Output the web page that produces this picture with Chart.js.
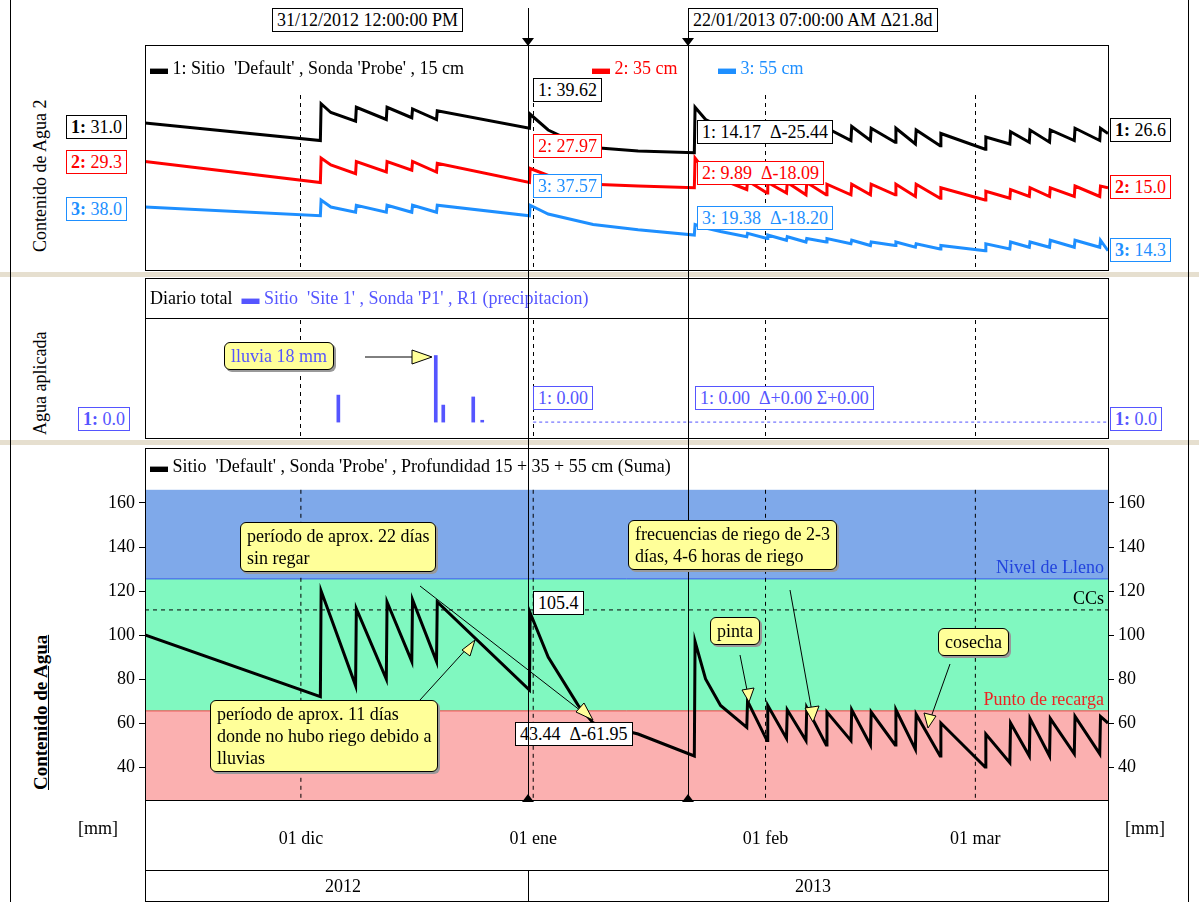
<!DOCTYPE html>
<html><head><meta charset="utf-8">
<script src="https://cdn.jsdelivr.net/npm/chart.js@4"></script>
<style>
body{margin:0;background:#fff;font-family:"Liberation Serif",serif;font-size:18px;}
#page{position:relative;width:1199px;height:902px;overflow:hidden;}
.abs{position:absolute;}
.frame{position:absolute;border:1px solid #000;box-sizing:border-box;}
.box{position:absolute;border:1px solid;background:#fff;padding:0 4px;white-space:nowrap;line-height:22px;}
.note{position:absolute;background:#ffff99;border:1px solid #000;border-radius:6px;padding:2px 6px;line-height:22px;box-shadow:2px 2px 0 #999;}
.vt{position:absolute;transform:rotate(-90deg);transform-origin:left top;white-space:nowrap;}
canvas{position:absolute;}
</style></head><body><div id="page">
<div class="abs" style="left:0;top:272px;width:1199px;height:5px;background:#e6dfcf"></div>
<div class="abs" style="left:0;top:440px;width:1199px;height:5px;background:#e6dfcf"></div>
<div class="abs" style="left:10px;top:0;width:1px;height:902px;background:#000"></div>
<div class="abs" style="left:1188px;top:0;width:1px;height:902px;background:#000"></div>

<canvas id="c1" width="963" height="175" style="left:145px;top:95px"></canvas>
<canvas id="c2" width="963" height="118" style="left:145px;top:320px"></canvas>
<canvas id="c3" width="1075" height="395" style="left:90px;top:475px"></canvas>

<div class="frame" style="left:145px;top:45px;width:964px;height:226px"></div>
<div class="frame" style="left:145px;top:278px;width:964px;height:161px"></div>
<div class="frame" style="left:145px;top:278px;width:964px;height:41px"></div>
<div class="frame" style="left:145px;top:448px;width:964px;height:353px"></div>
<div class="frame" style="left:145px;top:800px;width:964px;height:71px"></div>
<div class="frame" style="left:145px;top:870px;width:964px;height:32px"></div>
<div class="abs" style="left:528px;top:870px;width:1px;height:32px;background:#000"></div>

<div class="abs" style="left:150px;top:58px">▬ 1: Sitio &nbsp;'Default' , Sonda 'Probe' , 15 cm</div>
<div class="abs" style="left:592px;top:58px;color:#f00">▬ 2: 35 cm</div>
<div class="abs" style="left:718px;top:58px;color:#1e8fff">▬ 3: 55 cm</div>
<div class="abs" style="left:150px;top:288px">Diario total &nbsp;<span style="color:#55f">▬ Sitio &nbsp;'Site 1' , Sonda 'P1' , R1 (precipitacion)</span></div>
<div class="abs" style="left:150px;top:456px">▬ Sitio &nbsp;'Default' , Sonda 'Probe' , Profundidad 15 + 35 + 55 cm (Suma)</div>
<div class="abs" style="left:325px;top:876px">2012</div>
<div class="abs" style="left:795px;top:876px">2013</div>
<div class="abs" style="left:78px;top:818px">[mm]</div>
<div class="abs" style="left:1125px;top:818px">[mm]</div>

<div class="vt" style="left:30px;top:252px">Contenido de Agua 2</div>
<div class="vt" style="left:30px;top:435px">Agua aplicada</div>
<div class="vt" style="left:30px;top:790px;font-weight:bold;text-decoration:underline;font-size:19px">Contenido de Agua</div>

<div class="box" style="left:66px;top:115px;border-color:#000"><b>1:</b> 31.0</div>
<div class="box" style="left:66px;top:150px;border-color:#f00;color:#f00"><b>2:</b> 29.3</div>
<div class="box" style="left:66px;top:197px;border-color:#1e8fff;color:#1e8fff"><b>3:</b> 38.0</div>
<div class="box" style="left:1110px;top:118px;border-color:#000"><b>1:</b> 26.6</div>
<div class="box" style="left:1110px;top:175px;border-color:#f00;color:#f00"><b>2:</b> 15.0</div>
<div class="box" style="left:1110px;top:238px;border-color:#1e8fff;color:#1e8fff"><b>3:</b> 14.3</div>
<div class="box" style="left:78px;top:407px;border-color:#55f;color:#55f"><b>1:</b> 0.0</div>
<div class="box" style="left:1110px;top:407px;border-color:#55f;color:#55f"><b>1:</b> 0.0</div>

<div class="box" style="left:533px;top:78px;border-color:#000">1: 39.62</div>
<div class="box" style="left:533px;top:134px;border-color:#f00;color:#f00">2: 27.97</div>
<div class="box" style="left:533px;top:174px;border-color:#1e8fff;color:#1e8fff">3: 37.57</div>
<div class="box" style="left:697px;top:120px;border-color:#000">1: 14.17 &nbsp;Δ-25.44</div>
<div class="box" style="left:697px;top:161px;border-color:#f00;color:#f00">2: 9.89 &nbsp;Δ-18.09</div>
<div class="box" style="left:697px;top:206px;border-color:#1e8fff;color:#1e8fff">3: 19.38 &nbsp;Δ-18.20</div>
<div class="box" style="left:533px;top:386px;border-color:#55f;color:#55f">1: 0.00</div>
<div class="box" style="left:695px;top:386px;border-color:#55f;color:#55f">1: 0.00 &nbsp;Δ+0.00 Σ+0.00</div>
<div class="box" style="left:533px;top:591px;border-color:#000">105.4</div>
<div class="box" style="left:515px;top:722px;border-color:#000">43.44 &nbsp;Δ-61.95</div>

<div class="box" style="left:272px;top:8px;border-color:#000">31/12/2012 12:00:00 PM</div>
<div class="box" style="left:688px;top:8px;border-color:#000">22/01/2013 07:00:00 AM Δ21.8d</div>
<div class="abs" style="left:528px;top:8px;width:1px;height:792px;background:#000"></div>
<div class="abs" style="left:688px;top:8px;width:1px;height:792px;background:#000"></div>
<div class="abs" style="left:522px;top:38px;border:6px solid transparent;border-top:8px solid #000"></div>
<div class="abs" style="left:682px;top:38px;border:6px solid transparent;border-top:8px solid #000"></div>
<div class="abs" style="left:522px;top:794px;border:6px solid transparent;border-bottom:8px solid #000;border-top:0"></div>
<div class="abs" style="left:682px;top:794px;border:6px solid transparent;border-bottom:8px solid #000;border-top:0"></div>

<div class="note" style="left:224px;top:342px;color:#55f">lluvia 18 mm</div>
<div class="note" style="left:240px;top:522px">período de aprox. 22 días<br>sin regar</div>
<div class="note" style="left:210px;top:700px">período de aprox. 11 días<br>donde no hubo riego debido a<br>lluvias</div>
<div class="note" style="left:628px;top:520px">frecuencias de riego de 2-3<br>días, 4-6 horas de riego</div>
<div class="note" style="left:710px;top:617px">pinta</div>
<div class="note" style="left:938px;top:628px">cosecha</div>
<svg class="abs" style="left:0;top:0" width="1199" height="902">
 <g stroke="#000" fill="#ffff99" stroke-width="1">
 <line x1="365" y1="357" x2="420" y2="357"/><polygon points="412,350 432,357 412,364"/>
 <line x1="420" y1="586" x2="590" y2="718"/><polygon points="576,712 593,720 584,703"/>
 <line x1="420" y1="700" x2="470" y2="645"/><polygon points="462,650 475,640 470,656"/>
 <line x1="740" y1="655" x2="748" y2="695"/><polygon points="742,690 749,702 754,688"/>
 <line x1="790" y1="590" x2="812" y2="712"/><polygon points="805,708 813,722 819,706"/>
 <line x1="950" y1="664" x2="930" y2="720"/><polygon points="924,713 928,728 936,716"/>
 </g></svg>
</div>
<script>
const xMin = -20.8, xMax = 107.7;
const monthTicks = [0, 31, 62, 90];
const monthLabels = ['01 dic', '01 ene', '01 feb', '01 mar'];

const sumDays = [-20.8,2.6,2.7,4,7.3,7.4,11.4,11.5,14.8,14.9,18.1,18.2,30.5,30.6,33,37,39,45,52.5,52.6,54,56,
  59.5,59.6,62.2,62.3,64.8,64.9,67.4,67.5,70.1,70.2,73.4,73.5,76.0,76.1,79.3,79.4,82.0,82.1,85.3,85.4,
  91.3,91.4,94.6,94.7,97.2,97.3,99.9,100,103.2,103.3,106.6,106.7,107.7];
const sumVals = [100,72,120,108,77,112,80,115,88,116,88,115,75,110,90,68,60,55,45,97,80,68,
  58,70,52,68,53,66,52,67,50,65,52,66,50,65,50,66,48,64,45,60,40,55,42,60,45,62,45,62,46,63,46,63,60];
const probe15 = [84,74,95,90,85,93,86,93,87,92,86,91,81,89,80,72,70,68,67,93,86,82,76,83,75,82,75,82,74,82,74,81,74,82,74,81,73,81,72,80,71,78,69,76,72,79,73,80,73,80,74,81,74,81,78];
const probe35 = [62,50,64,60,55,62,56,62,57,62,56,61,50,58,54,50,49,48,47,64,56,52,46,51,44,50,44,50,43,50,43,49,43,49,43,49,43,49,42,49,41,47,40,45,41,46,42,47,42,47,42,48,42,48,47];
const probe55 = [36,31,40,36,33,37,33,37,33,37,33,37,31,37,32,28,26,23,20,26,24,22,19,21,18,20,17,19,16,18,16,18,15,17,14,16,14,16,13,15,12,14,11,15,12,16,13,16,13,17,13,17,13,17,11];

const rainDays = [5.0, 18.0, 19.0, 23.0, 24.2];
const rainVals = [7.3, 18, 4.6, 6.8, 0.5];

const levels = {full: 125.5, cc: 111.4, refill: 65.5, top: 166, bottom: 25};
const yTicks = [40, 60, 80, 100, 120, 140, 160];

const pts = (d, v) => d.map((x, i) => ({x: x, y: v[i]}));
const gridX = {
  type: 'linear', min: xMin, max: xMax, display: true, offset: false,
  afterBuildTicks: s => { s.ticks = monthTicks.map(v => ({value: v})); },
  grid: {color: '#000', drawTicks: false, offset: false},
  border: {display: false, dash: [4, 4]},
  ticks: {display: false}
};
const noAnim = {animation: false, responsive: false, plugins: {legend: {display: false}, tooltip: {enabled: false}}};

new Chart(document.getElementById('c1'), {
  type: 'line',
  data: {datasets: [
    {data: pts(sumDays, probe15), borderColor: '#000', borderWidth: 3},
    {data: pts(sumDays, probe35), borderColor: '#f00', borderWidth: 3},
    {data: pts(sumDays, probe55), borderColor: '#1e8fff', borderWidth: 3}
  ]},
  options: Object.assign({}, noAnim, {
    elements: {point: {radius: 0}, line: {tension: 0}},
    layout: {padding: 0},
    scales: {x: gridX, y: {display: false, min: 0, max: 100}}
  })
});

new Chart(document.getElementById('c2'), {
  type: 'bar',
  data: {datasets: [
    {type: 'bar', data: pts(rainDays, rainVals), backgroundColor: '#5555ff', barThickness: 3},
    {type: 'line', data: [{x: 31, y: 0}, {x: xMax, y: 0}], borderColor: '#5555ff', borderWidth: 1, borderDash: [3, 3], pointRadius: 0}
  ]},
  options: Object.assign({}, noAnim, {
    layout: {padding: 0},
    scales: {x: gridX, y: {display: false, min: -4.3, max: 27.6}}
  })
});

const bands = {
  id: 'bands',
  beforeDatasetsDraw(chart) {
    const {ctx, chartArea: a, scales: {y}} = chart;
    const yf = y.getPixelForValue(levels.full), yr = y.getPixelForValue(levels.refill), yc = y.getPixelForValue(levels.cc);
    ctx.save();
    ctx.fillStyle = '#7fa9ea'; ctx.fillRect(a.left, a.top, a.width, yf - a.top);
    ctx.fillStyle = '#80f8c0'; ctx.fillRect(a.left, yf, a.width, yr - yf);
    ctx.fillStyle = '#fbb0b0'; ctx.fillRect(a.left, yr, a.width, a.bottom - yr);
    ctx.strokeStyle = '#3355ee'; ctx.beginPath(); ctx.moveTo(a.left, yf); ctx.lineTo(a.right, yf); ctx.stroke();
    ctx.strokeStyle = '#ee4444'; ctx.beginPath(); ctx.moveTo(a.left, yr); ctx.lineTo(a.right, yr); ctx.stroke();
    ctx.strokeStyle = '#000'; ctx.setLineDash([4, 4]);
    ctx.beginPath(); ctx.moveTo(a.left, yc); ctx.lineTo(a.right, yc); ctx.stroke();
    chart.scales.x.ticks.forEach(t => {
      const px = chart.scales.x.getPixelForValue(t.value);
      ctx.beginPath(); ctx.moveTo(px, a.top); ctx.lineTo(px, a.bottom); ctx.stroke();
    });
    ctx.setLineDash([]);
    ctx.font = '18px "Liberation Serif"'; ctx.textAlign = 'right'; ctx.textBaseline = 'bottom';
    ctx.fillStyle = '#2244dd'; ctx.fillText('Nivel de Lleno', a.right - 4, yf - 2);
    ctx.fillStyle = '#000'; ctx.fillText('CCs', a.right - 4, yc - 2);
    ctx.fillStyle = '#ee2222'; ctx.fillText('Punto de recarga', a.right - 4, yr - 2);
    ctx.restore();
  }
};
const yAxis = (pos) => ({
  position: pos, min: levels.bottom, max: levels.top,
  afterBuildTicks: s => { s.ticks = yTicks.map(v => ({value: v})); },
  afterFit: s => { s.width = pos === 'left' ? 55 : 57; },
  grid: {drawOnChartArea: false, color: '#000', tickLength: 6},
  border: {color: '#000'},
  ticks: {color: '#000', font: {family: 'Liberation Serif', size: 18}, padding: 4}
});
new Chart(document.getElementById('c3'), {
  type: 'line',
  data: {datasets: [{data: pts(sumDays, sumVals), borderColor: '#000', borderWidth: 3, yAxisID: 'y'}]},
  options: Object.assign({}, noAnim, {
    elements: {point: {radius: 0}, line: {tension: 0}},
    layout: {padding: 0},
    scales: {
      x: {type: 'linear', min: xMin, max: xMax,
        afterBuildTicks: s => { s.ticks = monthTicks.map(v => ({value: v})); },
        afterFit: s => { s.height = 70; },
        grid: {display: false}, border: {display: false},
        ticks: {color: '#000', font: {family: 'Liberation Serif', size: 18}, padding: 20,
          callback: v => monthLabels[monthTicks.indexOf(v)]}},
      y: yAxis('left'),
      y2: yAxis('right')
    }
  }),
  plugins: [bands]
});
</script></body></html>
